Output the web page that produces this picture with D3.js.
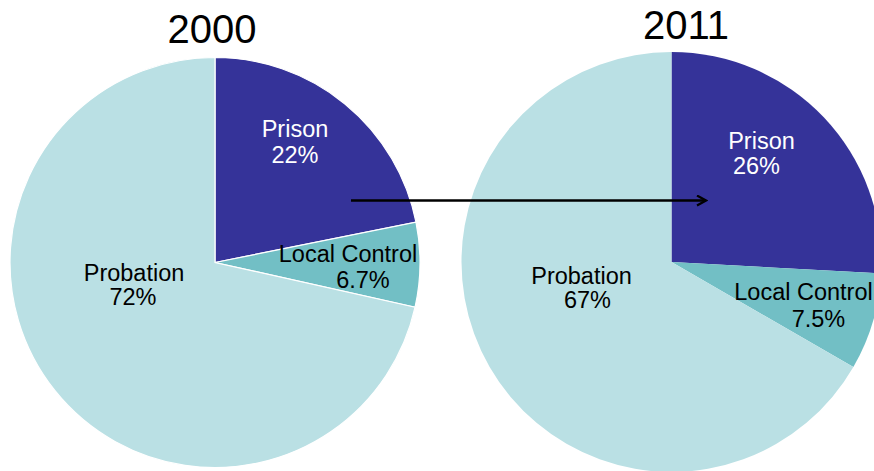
<!DOCTYPE html>
<html>
<head>
<meta charset="utf-8">
<script src="https://cdn.jsdelivr.net/npm/d3@7"></script>
<style>
  html, body { margin: 0; padding: 0; background: #fff; overflow: hidden; }
  svg { display: block; font-family: "Liberation Sans", Arial, sans-serif; }
</style>
</head>
<body>
<svg id="chart" width="874" height="471"></svg>
<script>
// ---- data ----
const categories = ["Prison", "Local Control", "Probation"];
const years = ["2000", "2011"];
const values2000 = [22, 6.7, 72];
const values2011 = [26, 7.5, 67];
const labels2000 = ["22%", "6.7%", "72%"];
const labels2011 = ["26%", "7.5%", "67%"];

// ---- styles / layout ----
const colors = ["#353399", "#72bfc5", "#bae0e4"];
const labelColors = ["#ffffff", "#000000", "#000000"];

const svg = d3.select("#chart");
const pie = d3.pie().sort(null).value(d => d);

const charts = [
  { year: years[0], values: values2000, labels: labels2000, cx: 215, cy: 262.5, r: 205, stroke: "#ffffff",
    titleX: 212, titleY: 43,
    // label baseline offsets relative to the pie centre: [line1 dx, line1 dy, line2 dx, line2 dy]
    pos: [[80, -126, 80, -100], [133, -1, 148, 25], [-81, 18, -82, 42]] },
  { year: years[1], values: values2011, labels: labels2011, cx: 671.5, cy: 262, r: 210, stroke: "none",
    titleX: 686, titleY: 39,
    pos: [[90, -113, 85, -88], [132, 38, 147, 65], [-90, 22, -84, 46]] }
];

charts.forEach(c => {
  const g = svg.append("g").attr("transform", `translate(${c.cx},${c.cy})`);
  const arc = d3.arc().innerRadius(0).outerRadius(c.r);
  g.selectAll("path")
    .data(pie(c.values))
    .join("path")
    .attr("d", arc)
    .attr("fill", (d, i) => colors[i])
    .attr("stroke", c.stroke)
    .attr("stroke-width", 1.2);

  const lg = g.selectAll("text.lbl")
    .data(pie(c.values))
    .join("text")
    .attr("class", "lbl")
    .attr("text-anchor", "middle")
    .attr("font-size", 23.5)
    .attr("fill", (d, i) => labelColors[i]);
  lg.append("tspan")
    .attr("x", (d, i) => c.pos[i][0])
    .attr("y", (d, i) => c.pos[i][1])
    .text((d, i) => categories[i]);
  lg.append("tspan")
    .attr("x", (d, i) => c.pos[i][2])
    .attr("y", (d, i) => c.pos[i][3])
    .text((d, i) => c.labels[i]);

  svg.append("text")
    .attr("x", c.titleX)
    .attr("y", c.titleY)
    .attr("text-anchor", "middle")
    .attr("font-size", 40)
    .attr("fill", "#000")
    .text(c.year);
});

// arrow
const defs = svg.append("defs");
defs.append("marker")
  .attr("id", "arrowhead")
  .attr("viewBox", "0 0 12 12")
  .attr("refX", 10).attr("refY", 6)
  .attr("markerWidth", 12).attr("markerHeight", 12)
  .attr("markerUnits", "userSpaceOnUse")
  .attr("orient", "auto")
  .append("path")
  .attr("d", "M1,1 L10,6 L1,11")
  .attr("fill", "none")
  .attr("stroke", "#000")
  .attr("stroke-width", 2.2);

svg.append("line")
  .attr("x1", 351).attr("y1", 200.5)
  .attr("x2", 706).attr("y2", 200.5)
  .attr("stroke", "#000")
  .attr("stroke-width", 2.5)
  .attr("marker-end", "url(#arrowhead)");
</script>
</body>
</html>
